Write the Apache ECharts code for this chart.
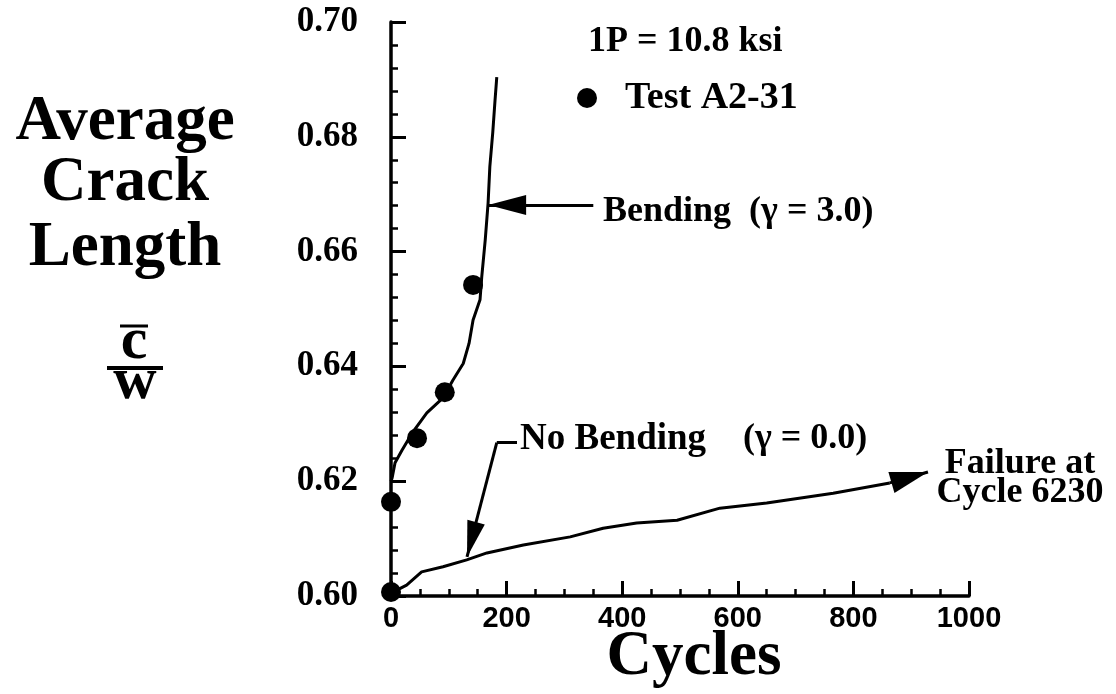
<!DOCTYPE html>
<html><head><meta charset="utf-8">
<script src="https://cdn.jsdelivr.net/npm/echarts@6/dist/echarts.min.js"></script>
<style>html,body{margin:0;background:#fff}#c{width:1116px;height:694px}</style>
</head><body><div id="c"></div>
<script>
// Bending (gamma = 3.0) predicted curve
const bendX = [0, 2, 7, 19, 38, 62, 90, 107, 125, 135, 142, 154, 157, 163, 168, 171, 176, 180, 183];
const bendY = [0.6200, 0.6206, 0.6232, 0.6254, 0.6286, 0.6319, 0.6345, 0.6376, 0.6405, 0.6440, 0.6481, 0.6516, 0.6556, 0.6620, 0.6685, 0.6748, 0.6807, 0.6864, 0.6904];
// No bending (gamma = 0.0) predicted curve
const noBendX = [0, 27, 53, 90, 131, 166, 229, 310, 367, 425, 495, 569, 650, 765, 863];
const noBendY = [0.6005, 0.6019, 0.6042, 0.6051, 0.6063, 0.6075, 0.6089, 0.6103, 0.6118, 0.6127, 0.6132, 0.6153, 0.6162, 0.6179, 0.6197];
// Test A2-31 measurements
const testX = [0, 0, 45, 93, 142];
const testY = [0.6007, 0.6164, 0.6275, 0.6355, 0.6542];
// annotation arrows (data coords)
const failArrow = [[863, 0.6197], [929, 0.6216]];
const bendArrow = [[350, 0.6681], [168, 0.6681]];
const noBendArrow = [[218, 0.6267], [183, 0.6267], [131.5, 0.6068]];
// axis ticks
const xTicks = [0, 200, 400, 600, 800, 1000];
const yTicks = [0.60, 0.62, 0.64, 0.66, 0.68, 0.70];

const zip = (a, b) => a.map((v, i) => [v, b[i]]);
const serif = '"Liberation Serif", "Times New Roman", serif';
const sans = '"Liberation Sans", Arial, sans-serif';

const arrowLine = (p, q, size) => [
  { coord: p, symbol: 'none' },
  { coord: q, symbol: 'triangle', symbolSize: size, symbolOffset: [0, size[1] / 2] }
];
const plainLine = (p, q) => [
  { coord: p, symbol: 'none' },
  { coord: q, symbol: 'none' }
];
const txt = (x, y, text, size, align) => ({
  type: 'text',
  style: { x, y, text, font: `bold ${size}px ${serif}`, fill: '#000', textAlign: align || 'left', textVerticalAlign: 'middle' }
});

const chart = echarts.init(document.getElementById('c'), null, { renderer: 'canvas' });
chart.setOption({
  animation: false,
  backgroundColor: '#fff',
  grid: { left: 391, top: 22, width: 578, height: 574, containLabel: false },
  xAxis: {
    type: 'value', min: xTicks[0], max: xTicks[xTicks.length - 1], interval: 200,
    axisLine: { show: true, onZero: false, lineStyle: { color: '#000', width: 3.5 } },
    axisTick: { show: true, inside: true, length: 15, lineStyle: { color: '#000', width: 3 } },
    minorTick: { show: true, splitNumber: 4, length: 7, lineStyle: { color: '#000', width: 2.5 } },
    splitLine: { show: false },
    axisLabel: { color: '#000', fontFamily: sans, fontWeight: 'bold', fontSize: 29, margin: 8,
      formatter: v => String(v) }
  },
  yAxis: {
    type: 'value', min: yTicks[0], max: yTicks[yTicks.length - 1], interval: 0.02,
    axisLine: { show: true, onZero: false, lineStyle: { color: '#000', width: 3.5 } },
    axisTick: { show: true, inside: true, length: 15, lineStyle: { color: '#000', width: 3 } },
    minorTick: { show: true, splitNumber: 5, length: 7, lineStyle: { color: '#000', width: 2.5 } },
    splitLine: { show: false },
    axisLabel: { color: '#000', fontFamily: serif, fontWeight: 'bold', fontSize: 35, margin: 33,
      padding: [8, 0, 0, 0], formatter: v => v.toFixed(2) }
  },
  series: [
    {
      name: 'Bending', type: 'line', data: zip(bendX, bendY), showSymbol: false, symbol: 'none',
      lineStyle: { color: '#000', width: 3 },
      markLine: {
        silent: true, animation: false, label: { show: false },
        lineStyle: { color: '#000', width: 3, type: 'solid' },
        data: [arrowLine(bendArrow[0], bendArrow[1], [20, 38])]
      }
    },
    {
      name: 'No Bending', type: 'line', data: zip(noBendX, noBendY), showSymbol: false, symbol: 'none',
      lineStyle: { color: '#000', width: 3 },
      markLine: {
        silent: true, animation: false, label: { show: false },
        lineStyle: { color: '#000', width: 3, type: 'solid' },
        data: [
          arrowLine(failArrow[0], failArrow[1], [22, 38]),
          plainLine(noBendArrow[0], noBendArrow[1]),
          arrowLine(noBendArrow[1], noBendArrow[2], [18, 36])
        ]
      }
    },
    {
      name: 'Test A2-31', type: 'scatter', data: zip(testX, testY), symbol: 'circle', symbolSize: 20,
      itemStyle: { color: '#000', opacity: 1 }, clip: false, z: 5
    }
  ],
  graphic: [
    txt(125, 123, 'Average', 63, 'center'),
    txt(125, 184, 'Crack', 63, 'center'),
    txt(125, 249, 'Length', 63, 'center'),
    txt(134, 342, 'c', 60, 'center'),
    { type: 'line', shape: { x1: 120, y1: 326, x2: 148, y2: 326 }, style: { stroke: '#000', lineWidth: 3 } },
    { type: 'line', shape: { x1: 107, y1: 368, x2: 163, y2: 368 }, style: { stroke: '#000', lineWidth: 4 } },
    txt(135, 382, 'w', 60, 'center'),
    txt(588, 42, '1P = 10.8 ksi', 36),
    { type: 'circle', shape: { cx: 587, cy: 98, r: 10 }, style: { fill: '#000' } },
    txt(625, 98, 'Test A2-31', 38),
    txt(603, 212, 'Bending  (γ = 3.0)', 36),
    txt(520, 439, 'No Bending', 37),
    txt(743, 439, '(γ = 0.0)', 36),
    txt(1020, 464, 'Failure at', 36, 'center'),
    txt(1020, 493, 'Cycle 6230', 36, 'center'),
    txt(694, 658, 'Cycles', 63, 'center')
  ]
});
</script>
</body></html>
